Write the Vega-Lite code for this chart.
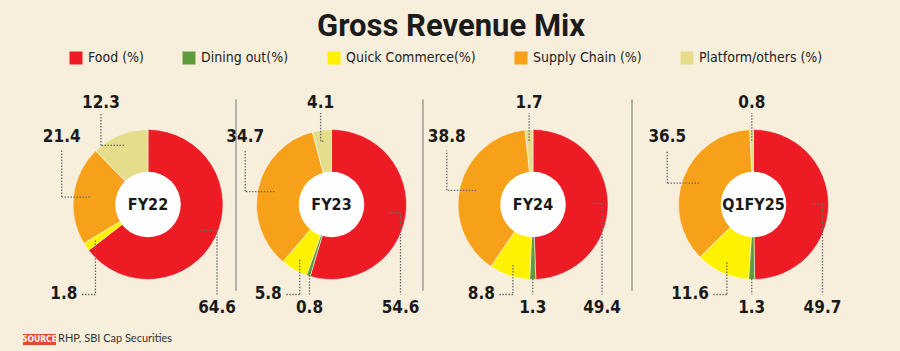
{
  "$schema": "https://vega.github.io/schema/vega-lite/v6.json",
  "autosize": {"type": "pad"},
  "padding": {"top": 10, "left": 22, "right": 60, "bottom": 30},
  "background": "#F7EFDC",
  "bounds": "flush",
  "spacing": 0,
  "title": {"text": "Gross Revenue Mix", "font": "Roboto", "fontSize": 31, "fontWeight": "bold", "color": "#1b1b1b", "anchor": "middle", "frame": "group", "baseline": "alphabetic", "offset": -15.5, "dx": 394},
  "config": {"view": {"stroke": null}, "axis": {"disable": true}},
  "data": {"values": [
    {"year": "FY22", "cat": "Food (%)", "v": 64.6},
    {"year": "FY22", "cat": "Dining out(%)", "v": 0},
    {"year": "FY22", "cat": "Quick Commerce(%)", "v": 1.8},
    {"year": "FY22", "cat": "Supply Chain (%)", "v": 21.4},
    {"year": "FY22", "cat": "Platform/others (%)", "v": 12.3},
    {"year": "FY23", "cat": "Food (%)", "v": 54.6},
    {"year": "FY23", "cat": "Dining out(%)", "v": 0.8},
    {"year": "FY23", "cat": "Quick Commerce(%)", "v": 5.8},
    {"year": "FY23", "cat": "Supply Chain (%)", "v": 34.7},
    {"year": "FY23", "cat": "Platform/others (%)", "v": 4.1},
    {"year": "FY24", "cat": "Food (%)", "v": 49.4},
    {"year": "FY24", "cat": "Dining out(%)", "v": 1.3},
    {"year": "FY24", "cat": "Quick Commerce(%)", "v": 8.8},
    {"year": "FY24", "cat": "Supply Chain (%)", "v": 38.8},
    {"year": "FY24", "cat": "Platform/others (%)", "v": 1.7},
    {"year": "Q1FY25", "cat": "Food (%)", "v": 49.7},
    {"year": "Q1FY25", "cat": "Dining out(%)", "v": 1.3},
    {"year": "Q1FY25", "cat": "Quick Commerce(%)", "v": 11.6},
    {"year": "Q1FY25", "cat": "Supply Chain (%)", "v": 36.5},
    {"year": "Q1FY25", "cat": "Platform/others (%)", "v": 0.8}
  ]},
  "transform": [
    {"calculate": "indexof(['Food (%)','Dining out(%)','Quick Commerce(%)','Supply Chain (%)','Platform/others (%)'], datum.cat)", "as": "i"},
    {"joinaggregate": [{"op": "sum", "field": "v", "as": "tot"}], "groupby": ["year"]},
    {"window": [{"op": "sum", "field": "v", "as": "cum"}], "groupby": ["year"], "sort": [{"field": "i"}], "frame": [null, 0]},
    {"calculate": "PI * (2 * datum.cum - datum.v) / datum.tot", "as": "am"},
    {"calculate": "datum.i == 1 ? 0.95 : (datum.i == 2 || datum.i == 4) ? 0.85 : 0.78", "as": "r0"},
    {"calculate": "datum.r0 * sin(datum.am)", "as": "ax"},
    {"calculate": "datum.r0 * cos(datum.am)", "as": "ay"},
    {"calculate": "datum.i == 0 ? 0.92 : datum.i == 3 ? -1.15 : datum.i == 4 ? datum.ax * (1 + 3 * abs(datum.ax)) : datum.ax", "as": "ex"},
    {"calculate": "(datum.i == 0 || datum.i == 3 || datum.i == 4) ? datum.ay : -1.2", "as": "ey"},
    {"calculate": "datum.i == 2 ? datum.ax - 0.2 : datum.ex", "as": "bx"},
    {"calculate": "datum.i == 0 ? -1.2 : datum.i == 3 ? 0.72 : datum.i == 4 ? 1.22 : datum.ey", "as": "by"},
    {"calculate": "datum.i == 0 ? 0.92 : datum.i == 2 ? datum.ax - 0.24 : datum.i == 3 ? -1.15 : datum.i == 4 ? datum.ex : datum.ax", "as": "lx"},
    {"calculate": "datum.i <= 1 ? -1.38 : datum.i == 2 ? -1.2 : datum.i == 3 ? 0.9 : 1.35", "as": "ly"}
  ],
  "resolve": {"scale": {"x": "independent", "y": "independent", "theta": "independent"}},
  "hconcat": [
    {
      "width": 182, "height": 295,
      "transform": [{"filter": "datum.year == 'FY22'"}],
      "layer": [
        {"transform": [{"filter": "datum.v > 0"}], "mark": {"type": "arc", "outerRadius": 75, "innerRadius": 0, "stroke": "#ffffff", "strokeWidth": 0.5},
         "encoding": {"theta": {"field": "v", "type": "quantitative", "stack": true}, "order": {"field": "i", "type": "quantitative"},
          "color": {"field": "cat", "type": "nominal", "scale": {"domain": ["Food (%)", "Dining out(%)", "Quick Commerce(%)", "Supply Chain (%)", "Platform/others (%)"], "range": ["#ED1C24", "#5E9B3A", "#FFF200", "#F7A11A", "#E6DD8B"]},
           "legend": {"orient": "none", "legendX": 12, "legendY": -6, "direction": "horizontal", "title": null, "symbolType": "square", "symbolSize": 169, "symbolStrokeWidth": 0, "symbolOpacity": 1, "labelFont": "'DejaVu Sans Condensed', sans-serif", "labelFontSize": 14, "labelColor": "#222222", "labelOffset": 5, "columnPadding": 38, "padding": 0}}}},
        {"transform": [{"filter": "datum.i == 0"}], "mark": {"type": "point", "shape": "circle", "size": 4300, "filled": true, "fill": "#ffffff", "opacity": 1, "strokeWidth": 0},
         "encoding": {"x": {"datum": 0, "type": "quantitative", "scale": {"domain": [-1.21333, 1.21333], "nice": false, "zero": false}}, "y": {"datum": 0, "type": "quantitative", "scale": {"domain": [-1.96667, 1.96667], "nice": false, "zero": false}}}},
        {"transform": [{"filter": "datum.i == 0"}], "mark": {"type": "text", "font": "'DejaVu Sans Condensed', sans-serif", "fontWeight": "bold", "fontSize": 16, "baseline": "middle", "align": "center", "fill": "#1a1a1a"},
         "encoding": {"x": {"datum": 0, "type": "quantitative"}, "y": {"datum": 0, "type": "quantitative"}, "text": {"field": "year"}}},
        {"transform": [{"filter": "datum.v > 0"}], "mark": {"type": "rule", "stroke": "#6b6b6b", "strokeWidth": 1.3, "strokeDash": [1.5, 1.5]},
         "encoding": {"x": {"field": "ax", "type": "quantitative"}, "x2": {"field": "ex"}, "y": {"field": "ay", "type": "quantitative"}, "y2": {"field": "ey"}}},
        {"transform": [{"filter": "datum.v > 0 && datum.i != 1"}], "mark": {"type": "rule", "stroke": "#6b6b6b", "strokeWidth": 1.3, "strokeDash": [1.5, 1.5]},
         "encoding": {"x": {"field": "ex", "type": "quantitative"}, "x2": {"field": "bx"}, "y": {"field": "ey", "type": "quantitative"}, "y2": {"field": "by"}}},
        {"transform": [{"filter": "datum.v > 0 && datum.i != 2"}], "mark": {"type": "text", "font": "'DejaVu Sans Condensed', sans-serif", "fontWeight": "bold", "fontSize": 17, "baseline": "middle", "align": "center", "fill": "#1a1a1a"},
         "encoding": {"x": {"field": "lx", "type": "quantitative"}, "y": {"field": "ly", "type": "quantitative"}, "text": {"field": "v", "type": "quantitative", "format": ".1f"}}},
        {"transform": [{"filter": "datum.v > 0 && datum.i == 2"}], "mark": {"type": "text", "font": "'DejaVu Sans Condensed', sans-serif", "fontWeight": "bold", "fontSize": 17, "baseline": "middle", "align": "right", "fill": "#1a1a1a"},
         "encoding": {"x": {"field": "lx", "type": "quantitative"}, "y": {"field": "ly", "type": "quantitative"}, "text": {"field": "v", "type": "quantitative", "format": ".1f"}}},
        {"transform": [{"filter": "datum.i == 0"}], "mark": {"type": "rule", "stroke": "#9c9c9c", "strokeWidth": 1.5},
         "encoding": {"x": {"datum": 1.173, "type": "quantitative"}, "y": {"datum": -1.15, "type": "quantitative"}, "y2": {"datum": 1.4}}},
        {"transform": [{"filter": "datum.i == 0"}], "mark": {"type": "rect", "fill": "#E8482E"},
         "encoding": {"x": {"datum": -1.667, "type": "quantitative"}, "x2": {"datum": -1.227}, "y": {"datum": -1.727, "type": "quantitative"}, "y2": {"datum": -1.873}}},
        {"transform": [{"filter": "datum.i == 0"}], "mark": {"type": "text", "font": "'DejaVu Sans Condensed', sans-serif", "fontWeight": "bold", "fontSize": 8.5, "baseline": "middle", "align": "center", "fill": "#ffffff"},
         "encoding": {"x": {"datum": -1.447, "type": "quantitative"}, "y": {"datum": -1.8, "type": "quantitative"}, "text": {"value": "SOURCE"}}},
        {"transform": [{"filter": "datum.i == 0"}], "mark": {"type": "text", "font": "Lato", "fontSize": 11, "baseline": "middle", "align": "left", "fill": "#333333"},
         "encoding": {"x": {"datum": -1.2, "type": "quantitative"}, "y": {"datum": -1.8, "type": "quantitative"}, "text": {"value": "RHP, SBI Cap Securities"}}}
      ]
    },
    {
      "width": 185, "height": 295,
      "transform": [{"filter": "datum.year == 'FY23'"}],
      "layer": [
        {"transform": [{"filter": "datum.v > 0"}], "mark": {"type": "arc", "outerRadius": 75, "innerRadius": 0, "stroke": "#ffffff", "strokeWidth": 0.5},
         "encoding": {"theta": {"field": "v", "type": "quantitative", "stack": true}, "order": {"field": "i", "type": "quantitative"},
          "color": {"field": "cat", "type": "nominal", "scale": {"domain": ["Food (%)", "Dining out(%)", "Quick Commerce(%)", "Supply Chain (%)", "Platform/others (%)"], "range": ["#ED1C24", "#5E9B3A", "#FFF200", "#F7A11A", "#E6DD8B"]},
           "legend": {"orient": "none", "legendX": 12, "legendY": -6, "direction": "horizontal", "title": null, "symbolType": "square", "symbolSize": 169, "symbolStrokeWidth": 0, "symbolOpacity": 1, "labelFont": "'DejaVu Sans Condensed', sans-serif", "labelFontSize": 14, "labelColor": "#222222", "labelOffset": 5, "columnPadding": 38, "padding": 0}}}},
        {"transform": [{"filter": "datum.i == 0"}], "mark": {"type": "point", "shape": "circle", "size": 4300, "filled": true, "fill": "#ffffff", "opacity": 1, "strokeWidth": 0},
         "encoding": {"x": {"datum": 0, "type": "quantitative", "scale": {"domain": [-1.23333, 1.23333], "nice": false, "zero": false}}, "y": {"datum": 0, "type": "quantitative", "scale": {"domain": [-1.96667, 1.96667], "nice": false, "zero": false}}}},
        {"transform": [{"filter": "datum.i == 0"}], "mark": {"type": "text", "font": "'DejaVu Sans Condensed', sans-serif", "fontWeight": "bold", "fontSize": 16, "baseline": "middle", "align": "center", "fill": "#1a1a1a"},
         "encoding": {"x": {"datum": 0, "type": "quantitative"}, "y": {"datum": 0, "type": "quantitative"}, "text": {"field": "year"}}},
        {"transform": [{"filter": "datum.v > 0"}], "mark": {"type": "rule", "stroke": "#6b6b6b", "strokeWidth": 1.3, "strokeDash": [1.5, 1.5]},
         "encoding": {"x": {"field": "ax", "type": "quantitative"}, "x2": {"field": "ex"}, "y": {"field": "ay", "type": "quantitative"}, "y2": {"field": "ey"}}},
        {"transform": [{"filter": "datum.v > 0 && datum.i != 1"}], "mark": {"type": "rule", "stroke": "#6b6b6b", "strokeWidth": 1.3, "strokeDash": [1.5, 1.5]},
         "encoding": {"x": {"field": "ex", "type": "quantitative"}, "x2": {"field": "bx"}, "y": {"field": "ey", "type": "quantitative"}, "y2": {"field": "by"}}},
        {"transform": [{"filter": "datum.v > 0 && datum.i != 2"}], "mark": {"type": "text", "font": "'DejaVu Sans Condensed', sans-serif", "fontWeight": "bold", "fontSize": 17, "baseline": "middle", "align": "center", "fill": "#1a1a1a"},
         "encoding": {"x": {"field": "lx", "type": "quantitative"}, "y": {"field": "ly", "type": "quantitative"}, "text": {"field": "v", "type": "quantitative", "format": ".1f"}}},
        {"transform": [{"filter": "datum.v > 0 && datum.i == 2"}], "mark": {"type": "text", "font": "'DejaVu Sans Condensed', sans-serif", "fontWeight": "bold", "fontSize": 17, "baseline": "middle", "align": "right", "fill": "#1a1a1a"},
         "encoding": {"x": {"field": "lx", "type": "quantitative"}, "y": {"field": "ly", "type": "quantitative"}, "text": {"field": "v", "type": "quantitative", "format": ".1f"}}},
        {"transform": [{"filter": "datum.i == 0"}], "mark": {"type": "rule", "stroke": "#9c9c9c", "strokeWidth": 1.5},
         "encoding": {"x": {"datum": 1.22, "type": "quantitative"}, "y": {"datum": -1.15, "type": "quantitative"}, "y2": {"datum": 1.4}}}
      ]
    },
    {
      "width": 218, "height": 295,
      "transform": [{"filter": "datum.year == 'FY24'"}],
      "layer": [
        {"transform": [{"filter": "datum.v > 0"}], "mark": {"type": "arc", "outerRadius": 75, "innerRadius": 0, "stroke": "#ffffff", "strokeWidth": 0.5},
         "encoding": {"theta": {"field": "v", "type": "quantitative", "stack": true}, "order": {"field": "i", "type": "quantitative"},
          "color": {"field": "cat", "type": "nominal", "scale": {"domain": ["Food (%)", "Dining out(%)", "Quick Commerce(%)", "Supply Chain (%)", "Platform/others (%)"], "range": ["#ED1C24", "#5E9B3A", "#FFF200", "#F7A11A", "#E6DD8B"]},
           "legend": {"orient": "none", "legendX": 12, "legendY": -6, "direction": "horizontal", "title": null, "symbolType": "square", "symbolSize": 169, "symbolStrokeWidth": 0, "symbolOpacity": 1, "labelFont": "'DejaVu Sans Condensed', sans-serif", "labelFontSize": 14, "labelColor": "#222222", "labelOffset": 5, "columnPadding": 38, "padding": 0}}}},
        {"transform": [{"filter": "datum.i == 0"}], "mark": {"type": "point", "shape": "circle", "size": 4300, "filled": true, "fill": "#ffffff", "opacity": 1, "strokeWidth": 0},
         "encoding": {"x": {"datum": 0, "type": "quantitative", "scale": {"domain": [-1.45333, 1.45333], "nice": false, "zero": false}}, "y": {"datum": 0, "type": "quantitative", "scale": {"domain": [-1.96667, 1.96667], "nice": false, "zero": false}}}},
        {"transform": [{"filter": "datum.i == 0"}], "mark": {"type": "text", "font": "'DejaVu Sans Condensed', sans-serif", "fontWeight": "bold", "fontSize": 16, "baseline": "middle", "align": "center", "fill": "#1a1a1a"},
         "encoding": {"x": {"datum": 0, "type": "quantitative"}, "y": {"datum": 0, "type": "quantitative"}, "text": {"field": "year"}}},
        {"transform": [{"filter": "datum.v > 0"}], "mark": {"type": "rule", "stroke": "#6b6b6b", "strokeWidth": 1.3, "strokeDash": [1.5, 1.5]},
         "encoding": {"x": {"field": "ax", "type": "quantitative"}, "x2": {"field": "ex"}, "y": {"field": "ay", "type": "quantitative"}, "y2": {"field": "ey"}}},
        {"transform": [{"filter": "datum.v > 0 && datum.i != 1"}], "mark": {"type": "rule", "stroke": "#6b6b6b", "strokeWidth": 1.3, "strokeDash": [1.5, 1.5]},
         "encoding": {"x": {"field": "ex", "type": "quantitative"}, "x2": {"field": "bx"}, "y": {"field": "ey", "type": "quantitative"}, "y2": {"field": "by"}}},
        {"transform": [{"filter": "datum.v > 0 && datum.i != 2"}], "mark": {"type": "text", "font": "'DejaVu Sans Condensed', sans-serif", "fontWeight": "bold", "fontSize": 17, "baseline": "middle", "align": "center", "fill": "#1a1a1a"},
         "encoding": {"x": {"field": "lx", "type": "quantitative"}, "y": {"field": "ly", "type": "quantitative"}, "text": {"field": "v", "type": "quantitative", "format": ".1f"}}},
        {"transform": [{"filter": "datum.v > 0 && datum.i == 2"}], "mark": {"type": "text", "font": "'DejaVu Sans Condensed', sans-serif", "fontWeight": "bold", "fontSize": 17, "baseline": "middle", "align": "right", "fill": "#1a1a1a"},
         "encoding": {"x": {"field": "lx", "type": "quantitative"}, "y": {"field": "ly", "type": "quantitative"}, "text": {"field": "v", "type": "quantitative", "format": ".1f"}}},
        {"transform": [{"filter": "datum.i == 0"}], "mark": {"type": "rule", "stroke": "#9c9c9c", "strokeWidth": 1.5},
         "encoding": {"x": {"datum": 1.32, "type": "quantitative"}, "y": {"datum": -1.15, "type": "quantitative"}, "y2": {"datum": 1.4}}}
      ]
    },
    {
      "width": 223, "height": 295,
      "transform": [{"filter": "datum.year == 'Q1FY25'"}],
      "layer": [
        {"transform": [{"filter": "datum.v > 0"}], "mark": {"type": "arc", "outerRadius": 75, "innerRadius": 0, "stroke": "#ffffff", "strokeWidth": 0.5},
         "encoding": {"theta": {"field": "v", "type": "quantitative", "stack": true}, "order": {"field": "i", "type": "quantitative"},
          "color": {"field": "cat", "type": "nominal", "scale": {"domain": ["Food (%)", "Dining out(%)", "Quick Commerce(%)", "Supply Chain (%)", "Platform/others (%)"], "range": ["#ED1C24", "#5E9B3A", "#FFF200", "#F7A11A", "#E6DD8B"]},
           "legend": {"orient": "none", "legendX": 12, "legendY": -6, "direction": "horizontal", "title": null, "symbolType": "square", "symbolSize": 169, "symbolStrokeWidth": 0, "symbolOpacity": 1, "labelFont": "'DejaVu Sans Condensed', sans-serif", "labelFontSize": 14, "labelColor": "#222222", "labelOffset": 5, "columnPadding": 38, "padding": 0}}}},
        {"transform": [{"filter": "datum.i == 0"}], "mark": {"type": "point", "shape": "circle", "size": 4300, "filled": true, "fill": "#ffffff", "opacity": 1, "strokeWidth": 0},
         "encoding": {"x": {"datum": 0, "type": "quantitative", "scale": {"domain": [-1.48667, 1.48667], "nice": false, "zero": false}}, "y": {"datum": 0, "type": "quantitative", "scale": {"domain": [-1.96667, 1.96667], "nice": false, "zero": false}}}},
        {"transform": [{"filter": "datum.i == 0"}], "mark": {"type": "text", "font": "'DejaVu Sans Condensed', sans-serif", "fontWeight": "bold", "fontSize": 16, "baseline": "middle", "align": "center", "fill": "#1a1a1a"},
         "encoding": {"x": {"datum": 0, "type": "quantitative"}, "y": {"datum": 0, "type": "quantitative"}, "text": {"field": "year"}}},
        {"transform": [{"filter": "datum.v > 0"}], "mark": {"type": "rule", "stroke": "#6b6b6b", "strokeWidth": 1.3, "strokeDash": [1.5, 1.5]},
         "encoding": {"x": {"field": "ax", "type": "quantitative"}, "x2": {"field": "ex"}, "y": {"field": "ay", "type": "quantitative"}, "y2": {"field": "ey"}}},
        {"transform": [{"filter": "datum.v > 0 && datum.i != 1"}], "mark": {"type": "rule", "stroke": "#6b6b6b", "strokeWidth": 1.3, "strokeDash": [1.5, 1.5]},
         "encoding": {"x": {"field": "ex", "type": "quantitative"}, "x2": {"field": "bx"}, "y": {"field": "ey", "type": "quantitative"}, "y2": {"field": "by"}}},
        {"transform": [{"filter": "datum.v > 0 && datum.i != 2"}], "mark": {"type": "text", "font": "'DejaVu Sans Condensed', sans-serif", "fontWeight": "bold", "fontSize": 17, "baseline": "middle", "align": "center", "fill": "#1a1a1a"},
         "encoding": {"x": {"field": "lx", "type": "quantitative"}, "y": {"field": "ly", "type": "quantitative"}, "text": {"field": "v", "type": "quantitative", "format": ".1f"}}},
        {"transform": [{"filter": "datum.v > 0 && datum.i == 2"}], "mark": {"type": "text", "font": "'DejaVu Sans Condensed', sans-serif", "fontWeight": "bold", "fontSize": 17, "baseline": "middle", "align": "right", "fill": "#1a1a1a"},
         "encoding": {"x": {"field": "lx", "type": "quantitative"}, "y": {"field": "ly", "type": "quantitative"}, "text": {"field": "v", "type": "quantitative", "format": ".1f"}}}
      ]
    }
  ]
}
